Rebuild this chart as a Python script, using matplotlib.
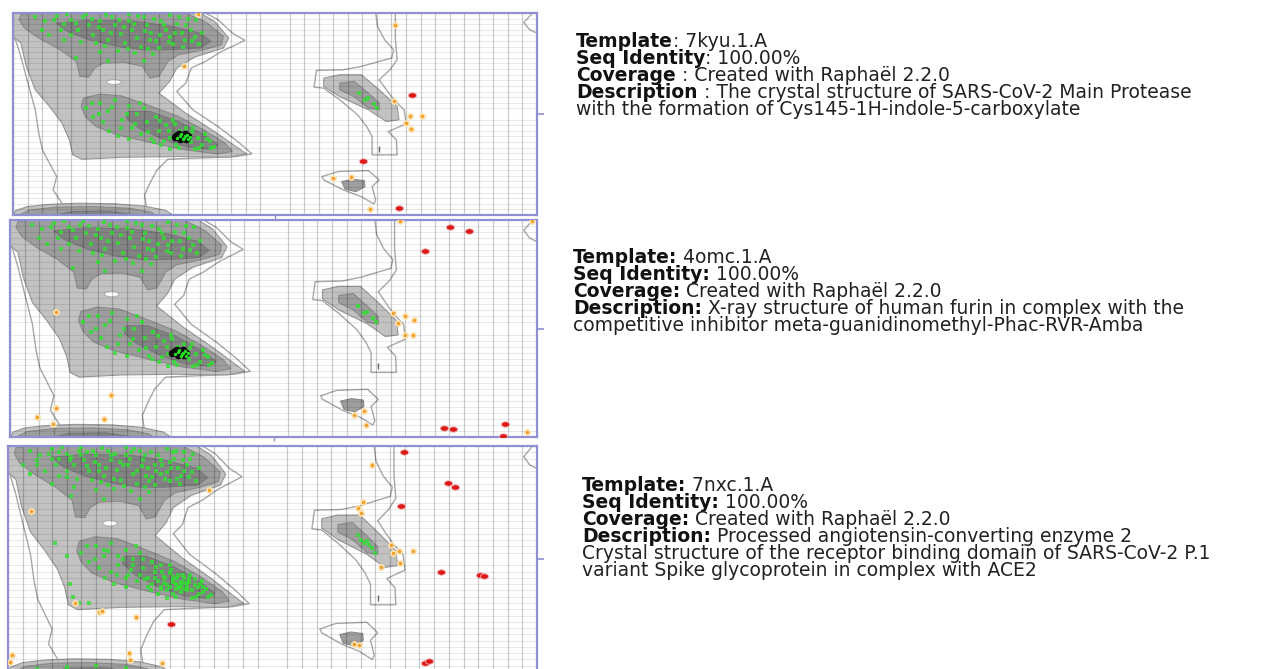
import numpy as np
import matplotlib.pyplot as plt
from matplotlib.patches import Ellipse, Polygon
from matplotlib.path import Path

W, H = 1283, 669

# --- reference phi/psi regions (degrees) ---------------------------------
generous_left = [(-180, 180), (-47.8, 180), (-39.2, 168.1), (-29.3, 144.3), (-20.7, 131.2),
                 (-29.3, 120.5), (-36.7, 111.6), (-47.8, 93.7), (-57.6, 81.8), (-61.3, 55),
                 (-67.5, 40.2), (-56.4, 7.4), (-39.2, -22.3), (-25.6, -49.1), (-15.8, -71.1),
                 (-26.9, -75.9), (-73.6, -80.6), (-81, -99.7), (-86, -123.5), (-89.6, -144.3),
                 (-88.4, -165.1), (-92.1, -180), (-150, -180), (-146.3, -159.2), (-152.4, -135.4),
                 (-150, -111.6), (-154.9, -87.8), (-159.8, -64), (-162.3, -34.2), (-164.7, 7.4),
                 (-169.7, 55), (-174.6, 102.6), (-178.3, 132.4), (-180, 140)]
allowed_left = [(-180, 180), (-51.5, 180), (-41.6, 165.1), (-31.8, 135.4), (-35.5, 117.5),
                (-55.2, 101.5), (-67.5, 81.8), (-72.4, 58), (-79.8, 37.2), (-61.3, 1.5),
                (-41.6, -31.2), (-26.9, -58), (-19.5, -71.1), (-31.8, -77), (-66.3, -75.9),
                (-103.2, -77), (-132.7, -80.6), (-138.9, -72.9), (-141.3, -46.1), (-146.3, -16.4),
                (-154.9, 13.4), (-164.7, 43.2), (-170.9, 84.8), (-174.6, 126.4), (-180, 138.4)]
favoured_beta = [(-174.6, 177), (-164.7, 180), (-61.3, 180), (-46.6, 162.1), (-35.5, 138.4),
                 (-36.7, 123.5), (-49, 114.5), (-66.3, 105.6), (-73.6, 93.7), (-79.8, 67),
                 (-86, 64), (-90.9, 84.8), (-103.2, 91.9), (-118, 90.7), (-124.1, 81.8),
                 (-127.8, 65.8), (-134, 67), (-136.4, 93.7), (-147.5, 114.5), (-162.3, 135.4),
                 (-172.1, 153.2), (-175.8, 168.1)]
core_beta = [(-150, 162.1), (-127.8, 166.9), (-95.8, 165.1), (-71.2, 156.2), (-51.5, 144.3),
             (-44.1, 129.4), (-51.5, 117.5), (-73.6, 114.5), (-90.9, 114.5), (-108.1, 120.5),
             (-127.8, 132.4), (-142.6, 147.3)]
favoured_alpha = [(-131.5, 28.3), (-120.4, 35.4), (-105.6, 32.4), (-86, 14.6), (-66.3, -4.5),
                  (-49, -28.3), (-34.3, -52), (-29.3, -66.9), (-39.2, -71.1), (-61.3, -64),
                  (-83.5, -52), (-108.1, -37.2), (-122.9, -22.3), (-130.3, -4.5), (-133.2, 13.4)]
core_alpha = [(-100.7, 4.5), (-86, 4.5), (-66.3, -13.4), (-49, -37.2), (-39.2, -55),
              (-44.1, -62.8), (-61.3, -58), (-78.6, -43.1), (-93.3, -25.3), (-102, -7.4)]
allowed_wrap = [(-180, -180), (-178, -172), (-170, -165), (-155, -161), (-135, -159),
                (-110, -160), (-90, -164), (-75, -172), (-70, -180)]
favoured_wrap = [(-176, -180), (-168, -171), (-150, -166), (-125, -165), (-100, -168),
                 (-85, -175), (-82, -180)]
core_wrap = [(-150, -180), (-140, -174), (-115, -173), (-95, -180)]
generous_right = [(69.2, 180), (70.4, 156.2), (75.3, 132.4), (81.5, 114.5), (80.2, 99.7),
                  (71.6, 93.7), (59.3, 84.8), (47, 78.9), (28.5, 77.7), (26.8, 47.9),
                  (33.5, 46.1), (44.5, 25.3), (56.8, -1.5), (63, -22.3), (66.7, -40.2),
                  (66.7, -72.9), (83.9, -72.9), (83.4, -46.1), (77.8, -31.2), (90.1, -17.5),
                  (88.8, 7.5), (82.7, 22.3), (76.5, 43.2), (71.6, 61), (79, 78.9),
                  (83.9, 96.7), (82.7, 132.4), (82.7, 180)]
allowed_right = [(33.5, 64), (44.5, 70), (59.3, 70), (71.6, 43), (83.9, 13.4), (85.2, -10.4),
                 (76.5, -13.4), (64.2, 7.5), (44.5, 31), (33.5, 49)]
favoured_right = [(44.5, 55), (54.4, 58), (64.2, 37), (71.6, 19.4), (71.6, 7.5), (64.2, 10.4),
                  (54.4, 31), (44.5, 43)]
generous_low = [(32.2, -111.6), (43.3, -102.6), (64.2, -100.8), (71.6, -117.5), (66.7, -129.4),
                (69.2, -153.2), (67.9, -160.3), (59.3, -147.3), (47, -135.4), (33.5, -117.5)]
favoured_low = [(45.8, -120.5), (53.2, -116.3), (61.3, -118.7), (61.8, -129.4), (55.6, -138.3),
                (48.2, -134.2)]
generous_edge = [(180, 180), (177, 180), (171, 163), (175, 150), (180, 144)]
hole_center = (-110.6, 57)

# --- residues shared by the three models ---------------------------------
green_beta = [(-165, 172), (-158, 165), (-150, 175), (-145, 160), (-140, 168), (-135, 150),
              (-132, 172), (-128, 158), (-125, 140), (-120, 165), (-118, 150), (-115, 132),
              (-112, 172), (-110, 158), (-106, 142), (-103, 126), (-100, 166), (-98, 150),
              (-95, 135), (-92, 120), (-90, 172), (-88, 158), (-85, 145), (-82, 130),
              (-80, 118), (-78, 165), (-75, 150), (-72, 138), (-70, 125), (-67, 160),
              (-64, 145), (-62, 132), (-58, 150), (-55, 138), (-52, 125), (-140, 140),
              (-147, 150), (-123, 126), (-108, 112), (-96, 108), (-84, 107), (-130, 178),
              (-100, 178), (-72, 176), (-155, 140), (-60, 170), (-115, 95), (-137, 100),
              (-90, 95), (-120, 110), (-160, 150), (-152, 168), (-143, 178), (-137, 163),
              (-126, 170), (-121, 155), (-116, 177), (-113, 145), (-107, 168), (-104, 155),
              (-97, 160), (-94, 175), (-89, 148), (-86, 132), (-83, 170), (-79, 140),
              (-76, 158), (-73, 128), (-69, 145), (-66, 172), (-63, 120), (-61, 158),
              (-57, 130), (-54, 168), (-50, 145), (-133, 128), (-117, 122), (-101, 116),
              (-87, 115), (-145, 132)]
green_alpha = [(-120, 20), (-115, 5), (-110, 25), (-105, -10), (-100, 15), (-98, -25), (-95, 0),
               (-92, -35), (-90, 10), (-88, -15), (-85, -45), (-82, -5), (-80, -30), (-78, -55),
               (-75, -20), (-72, -42), (-70, -10), (-68, -55), (-65, -30), (-63, -45), (-60, -38),
               (-58, -50), (-56, -25), (-53, -42), (-50, -55), (-48, -35), (-45, -48), (-42, -58),
               (-66, -40), (-62, -42), (-68, -36), (-130, 10), (-125, -5), (-108, -40),
               (-100, -45), (-118, -15), (-72, -62), (-55, -62), (-112, 12), (-106, -25),
               (-102, 0), (-96, -18), (-93, 20), (-87, -32), (-83, -50), (-79, -12), (-76, -48),
               (-73, -30), (-69, -18), (-66, -60), (-61, -25), (-57, -32), (-52, -60),
               (-47, -44), (-44, -60), (-126, 20), (-121, 0), (-114, -30)]
green_lefthanded = [(58, 38), (64, 28), (68, 18), (70, 10), (62, 25)]
black_cluster = [(-67, -38), (-64, -42), (-62, -36), (-60, -40), (-65, -44), (-69, -41),
                 (-63, -39), (-66, -35), (-61, -44)]

# --- residues specific to each model -------------------------------------
orange_1 = [(-52.7, 178.8), (82.7, 159.2), (-62.6, 84.8), (81.5, 22.3), (92.5, -3.3),
            (101.2, -3.3), (90.1, -16.4), (93.3, -27.1), (39.6, -114.5), (51.9, -111.6),
            (65.5, -169.9)]
red_1 = [(93.8, 34.2), (60.5, -83.6), (85.2, -168.1)]

orange_2 = [(86.3, 178.3), (-148.4, 27.7), (81.5, 24.9), (90, 21), (96, 13.8), (85.1, 8.3),
            (90, -10), (95.6, -10), (-110.7, -110.9), (-148.4, -131.9), (-161.8, -146.9),
            (-150.8, -157.9), (-115.5, -150.7), (63.2, -159.6), (54.7, -143), (62, -137.6),
            (173.4, -171.8), (176.3, 178.3)]
red_2 = [(120.9, 167.8), (133.8, 161.7), (103.3, 128.5), (116.7, -164.6), (122.3, -166.3),
         (158.1, -157.9), (156.8, -178.4)]

orange_3 = [(67.6, 149.7), (61.6, 90.3), (58, 80.7), (60.4, 73.8), (-164.3, 76.5), (80.9, 22.3),
            (85.8, 12.7), (95.4, 12.7), (82.1, 9), (87, -6.9), (73.7, -12.2), (-43.5, 110),
            (-134.1, -69.6), (-118.4, -83.9), (-116, -82.3), (-93, -91.9), (55.6, -135.4),
            (59.2, -137), (-177.6, -152.9), (-178.8, -163.5), (-97.9, -150.3), (-97.2, -160.9),
            (-74.9, -165.2)]
red_3 = [(89.4, 171), (119.6, 120.5), (124.4, 114.2), (87.7, 84.4), (114.8, -20.2),
         (141.3, -25.5), (143.8, -26.6), (-69.3, -104), (103.9, -165.2), (106.3, -163)]
green_extra_3 = [(-85, -30), (-82, -40), (-80, -20), (-78, -35), (-76, -45), (-74, -28),
                 (-72, -50), (-70, -22), (-68, -33), (-66, -48), (-64, -25), (-62, -52),
                 (-60, -30), (-58, -44), (-57, -36), (-55, -50), (-53, -32), (-51, -45),
                 (-49, -40), (-47, -52), (-74, -38), (-70, -44), (-66, -40), (-62, -36),
                 (-58, -38), (-64, -46), (-68, -28), (-60, -48), (-95, -10), (-105, 5),
                 (-110, -20), (-90, -25), (-115, 15), (-100, -30), (-88, 0), (-76, -10),
                 (-145, 170), (-138, 158), (-130, 165), (-122, 172), (-118, 140), (-110, 165),
                 (-102, 150), (-96, 170), (-92, 140), (-87, 165), (-84, 125), (-80, 150),
                 (-76, 135), (-70, 155), (-68, 170), (-65, 128), (-60, 140), (-56, 160),
                 (-108, 128), (-126, 148), (-140, 130), (-150, 160), (-160, 158), (-112, 118),
                 (-170, 150), (-165, 135), (-150, 120), (-135, 115), (-138, -40), (-136, -60),
                 (-140, 5), (-132, -70), (-148, 25), (-125, -70), (-140, -172), (-120, -170),
                 (-100, -173), (-160, -175), (60, 30), (66, 22)]

panels = [
    dict(rect=(13, 13, 537, 215), green=green_beta + green_alpha + green_lefthanded,
         black=black_cluster, orange=orange_1, red=red_1),
    dict(rect=(10, 220, 537, 437), green=green_beta + green_alpha + green_lefthanded,
         black=black_cluster, orange=orange_2, red=red_2),
    dict(rect=(8, 446, 537, 672), green=green_beta + green_alpha + green_lefthanded + green_extra_3,
         black=[], orange=orange_3, red=red_3),
]

# template descriptions: (bold label, plain text)
texts = [
    dict(x=576, y=47, lines=[("Template", ": 7kyu.1.A"),
                             ("Seq Identity", ": 100.00%"),
                             ("Coverage", " : Created with Raphaël 2.2.0"),
                             ("Description", " : The crystal structure of SARS-CoV-2 Main Protease"),
                             ("", "with the formation of Cys145-1H-indole-5-carboxylate")]),
    dict(x=573, y=263, lines=[("Template:", " 4omc.1.A"),
                              ("Seq Identity:", " 100.00%"),
                              ("Coverage:", " Created with Raphaël 2.2.0"),
                              ("Description:", " X-ray structure of human furin in complex with the"),
                              ("", "competitive inhibitor meta-guanidinomethyl-Phac-RVR-Amba")]),
    dict(x=582, y=491, lines=[("Template:", " 7nxc.1.A"),
                              ("Seq Identity:", " 100.00%"),
                              ("Coverage:", " Created with Raphaël 2.2.0"),
                              ("Description:", " Processed angiotensin-converting enzyme 2"),
                              ("", "Crystal structure of the receptor binding domain of SARS-CoV-2 P.1"),
                              ("", "variant Spike glycoprotein in complex with ACE2")]),
]
LINE_PITCH = 17
FONT_SIZE = 13.5

FRAME = '#8f8fd2'
LIGHT, MEDIUM, DARK = '#c2c2c2', '#9e9e9e', '#838383'
EDGE = '#979797'

# horizontally stretched dot for outliers
t = np.linspace(0, 2 * np.pi, 30)
wide_dot = Path(np.column_stack([1.5 * np.cos(t), np.sin(t)]), closed=True)


def region(ax, pts, face, edge=EDGE, z=1.0, lw=0.8):
    poly = Polygon(pts, closed=True, facecolor=face, edgecolor=edge, lw=lw, zorder=z)
    ax.add_patch(poly)


def draw_panel(ax, p):
    # outer (generous) outlines, white inside
    for pts in (generous_left, generous_right, generous_low, generous_edge):
        region(ax, pts, 'white', edge='#a9a9a9', z=0.5, lw=1.0)
    for pts in (allowed_left, allowed_right, allowed_wrap):
        region(ax, pts, LIGHT, z=0.8)
    for pts in (favoured_beta, favoured_alpha, favoured_wrap, favoured_right, favoured_low):
        region(ax, pts, MEDIUM, edge='#8a8a8a', z=0.9)
    for pts in (core_beta, core_alpha, core_wrap):
        region(ax, pts, DARK, edge='#777777', z=1.0)
    ax.add_patch(Ellipse(hole_center, 10, 9, facecolor='white', edgecolor='#b0b0b0',
                         lw=0.8, zorder=1.1))
    ax.plot([71.6], [-62], marker='|', color='#666666', ms=5, zorder=2)

    g = np.array(p['green'])
    ax.scatter(g[:, 0], g[:, 1], s=12, marker='s', color='#30e030', alpha=0.8,
               lw=0, zorder=3)
    if p['black']:
        b = np.array(p['black'])
        ax.scatter(b[:, 0], b[:, 1], s=30, color='#0a0a0a', lw=0, zorder=3.2)
        ax.scatter(b[:, 0] + 1.5, b[:, 1] - 1, s=6, color='#20e020', lw=0, zorder=3.3)
    o = np.array(p['orange'])
    ax.scatter(o[:, 0], o[:, 1], s=14, color='#f2a02a', edgecolors='#fbe2b4', lw=1.2,
               zorder=4)
    r = np.array(p['red'])
    ax.scatter(r[:, 0], r[:, 1], s=34, marker=wide_dot, color='#dc1818',
               edgecolors='#f3b0b0', lw=0.6, zorder=5)

    ax.set_xlim(-180, 180)
    ax.set_ylim(-180, 180)
    ax.set_xticks(np.arange(-180, 181, 10), minor=True)
    ax.set_yticks(np.arange(-180, 181, 10), minor=True)
    ax.set_xticks([0])
    ax.set_yticks([0])
    ax.yaxis.tick_right()
    ax.tick_params(which='both', labelbottom=False, labelright=False, labelleft=False)
    ax.tick_params(which='minor', length=0)
    ax.tick_params(which='major', axis='y', length=5, color=FRAME, width=1.2, direction='out')
    ax.tick_params(which='major', axis='x', length=3, color=FRAME, width=1, direction='out')
    ax.set_axisbelow('line')
    ax.grid(which='minor', axis='x', color='black', alpha=0.2, lw=0.9)
    ax.grid(which='minor', axis='y', color='black', alpha=0.09, lw=0.8)
    for s in ax.spines.values():
        s.set_color(FRAME)
        s.set_linewidth(1.6)


fig = plt.figure(figsize=(W / 100, H / 100), dpi=100)
for p in panels:
    x0, y0, x1, y1 = p['rect']
    ax = fig.add_axes([x0 / W, 1 - y1 / H, (x1 - x0) / W, (y1 - y0) / H])
    draw_panel(ax, p)

renderer = fig.canvas.get_renderer()
for block in texts:
    for i, (label, value) in enumerate(block['lines']):
        yf = 1 - (block['y'] + i * LINE_PITCH) / H
        xf = block['x'] / W
        if label:
            t_lab = fig.text(xf, yf, label, fontsize=FONT_SIZE, fontweight='bold',
                             color='#111111', va='baseline', family='DejaVu Sans')
            xf = t_lab.get_window_extent(renderer).x1 / fig.bbox.width
        fig.text(xf, yf, value, fontsize=FONT_SIZE, color='#222222', va='baseline',
                 family='DejaVu Sans')

fig.savefig('out.png', dpi=100)
